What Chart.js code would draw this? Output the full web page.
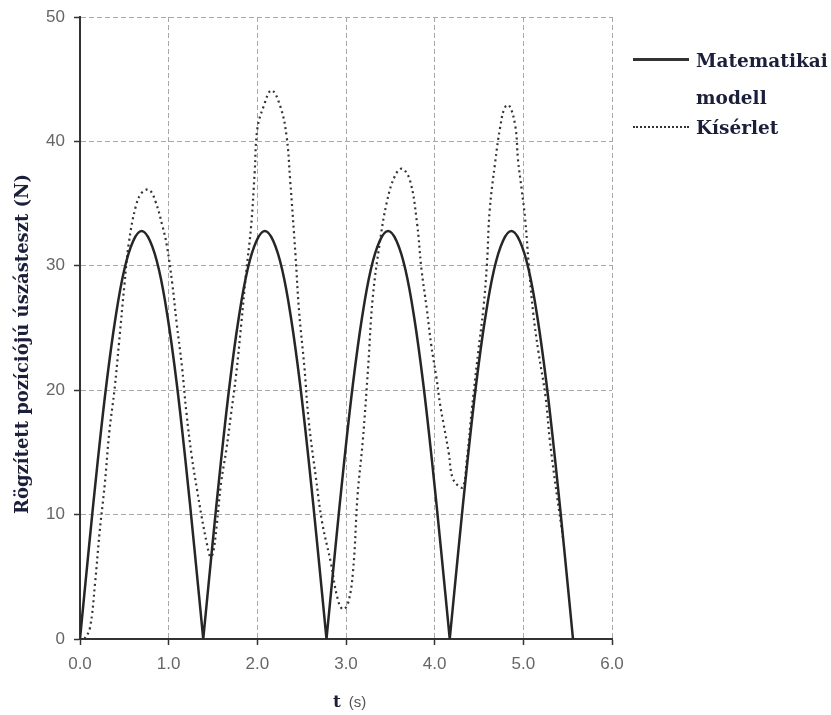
<!DOCTYPE html>
<html>
<head>
<meta charset="utf-8">
<script src="https://cdn.jsdelivr.net/npm/chart.js@4"></script>
<style>
  body { margin: 0; background: #fff; }
  #wrap { position: relative; width: 831px; height: 715px; }
  .leg { position: absolute; font-family: "DejaVu Serif", serif; font-weight: bold; font-size: 18.5px; color: #1c1f3a; line-height: 22px; white-space: nowrap; }
  .legLine { position: absolute; width: 56px; }
  #yTitle { position: absolute; left: -178px; top: 333px; width: 400px; height: 22px; line-height: 22px; text-align: center;
    transform: rotate(-90deg); font-family: "DejaVu Serif", serif; font-weight: bold; font-size: 18px; color: #1c1f3a; white-space: nowrap; }
  #xTitle { position: absolute; top: 691px; left: 333px; white-space: nowrap; }
  #xTitle b { font-family: "DejaVu Serif", serif; color: #1c1f3a; font-size: 17px; }
  #xTitle span { font-family: "Liberation Sans", sans-serif; color: #555; font-size: 15px; }
</style>
</head>
<body>
<div id="wrap">
  <canvas id="myChart" width="831" height="715"></canvas>
  <div id="yTitle">Rögzített pozíciójú úszásteszt (N)</div>
  <div class="legLine" style="left:633px; top:58px; border-top:3px solid #333;"></div>
  <div class="leg" style="left:696px; top:50px;">Matematikai</div>
  <div class="leg" style="left:696px; top:87px;">modell</div>
  <div class="legLine" style="left:633px; top:126px; border-top:2px dotted #333;"></div>
  <div class="leg" style="left:696px; top:117px;">Kísérlet</div>
  <div id="xTitle"><b>t</b>&nbsp; <span>(s)</span></div>
</div>
<script>
// Matematikai modell: time (s) and force (N); null splits the arches so the zeros stay sharp
const modelT = [0, 0.1, 0.2, 0.3, 0.4, 0.5, 0.6, 0.695, 0.79, 0.89, 0.99, 1.09, 1.19, 1.29, 1.39, 1.39,
  1.39, 1.49, 1.59, 1.69, 1.79, 1.89, 1.99, 2.085, 2.18, 2.28, 2.38, 2.48, 2.58, 2.68, 2.78, 2.78,
  2.78, 2.88, 2.98, 3.08, 3.18, 3.28, 3.38, 3.475, 3.57, 3.67, 3.77, 3.87, 3.97, 4.07, 4.17, 4.17,
  4.17, 4.27, 4.37, 4.47, 4.57, 4.67, 4.77, 4.865, 4.96, 5.06, 5.16, 5.26, 5.36, 5.46, 5.56];
const modelN = [0, 7.3, 14.3, 20.6, 25.8, 29.7, 32.0, 32.8, 32.0, 29.7, 25.8, 20.6, 14.3, 7.3, 0, null,
  0, 7.3, 14.3, 20.6, 25.8, 29.7, 32.0, 32.8, 32.0, 29.7, 25.8, 20.6, 14.3, 7.3, 0, null,
  0, 7.3, 14.3, 20.6, 25.8, 29.7, 32.0, 32.8, 32.0, 29.7, 25.8, 20.6, 14.3, 7.3, 0, null,
  0, 7.3, 14.3, 20.6, 25.8, 29.7, 32.0, 32.8, 32.0, 29.7, 25.8, 20.6, 14.3, 7.3, 0];

// Kísérlet: measured values
const expT = [0.05, 0.11, 0.17, 0.22, 0.28, 0.33, 0.39, 0.44, 0.50, 0.55, 0.63, 0.70, 0.78, 0.85, 0.93, 0.98,
  1.04, 1.09, 1.15, 1.20, 1.26, 1.32, 1.37, 1.43, 1.47, 1.50, 1.54, 1.59, 1.65, 1.70, 1.76, 1.82, 1.87, 1.93, 1.97,
  2.00, 2.07, 2.16, 2.26, 2.33, 2.37, 2.43, 2.47, 2.53, 2.58, 2.66, 2.73, 2.83, 2.90, 2.96,
  3.02, 3.08, 3.13, 3.19, 3.25, 3.30, 3.38, 3.46, 3.55, 3.63, 3.72, 3.80, 3.85, 3.91, 3.96,
  4.02, 4.06, 4.10, 4.16, 4.20, 4.27, 4.32, 4.36, 4.42, 4.49, 4.55, 4.59, 4.62, 4.68, 4.74, 4.79, 4.84, 4.91, 4.94, 4.98,
  5.02, 5.06, 5.11, 5.17, 5.25, 5.30, 5.38, 5.45];
const expN = [0, 0.8, 4.5, 8.5, 12.5, 16.6, 20.1, 23.8, 28.4, 31.8, 34.8, 35.9, 36.1, 35.2, 33.2, 31.6,
  28.6, 25.4, 21.9, 18.2, 14.7, 12.0, 9.9, 7.7, 6.6, 6.9, 9.0, 12.5, 15.2, 17.9, 21.2, 25.4, 29.2, 33.2, 37.5,
  41.0, 42.8, 44.1, 42.8, 40.4, 36.9, 30.9, 26.4, 21.9, 17.5, 13.0, 9.4, 6.1, 3.4, 2.4,
  2.8, 5.5, 11.5, 16.0, 21.9, 27.3, 31.8, 35.1, 37.2, 37.8, 36.9, 33.5, 29.8, 26.6, 23.7,
  21.0, 18.9, 17.3, 14.9, 13.0, 12.3, 12.2, 14.2, 18.5, 23.0, 26.6, 30.2, 34.4, 38.2, 41.2, 42.7, 42.9, 41.2, 38.5, 36.2,
  33.8, 30.2, 26.3, 23.1, 19.5, 15.9, 11.5, 8.0];

const xTicks = [0, 1, 2, 3, 4, 5, 6];
const yTicks = [0, 10, 20, 30, 40, 50];

const toPoints = (ts, vs) => ts.map((t, i) => ({ x: t, y: vs[i] }));

const tickFont = { family: 'Liberation Sans', size: 17 };

const ctx = document.getElementById('myChart').getContext('2d');
const myChart = new Chart(ctx, {
  type: 'line',
  data: {
    datasets: [{
      label: 'Matematikai modell',
      data: toPoints(modelT, modelN),
      borderColor: '#262626',
      borderWidth: 2.5,
      pointRadius: 0,
      spanGaps: false,
      tension: 0.4
    },
    {
      label: 'Kísérlet',
      data: toPoints(expT, expN),
      borderColor: '#333',
      borderWidth: 2.2,
      borderDash: [2, 3.5],
      pointRadius: 0,
      tension: 0.4
    }]
  },
  options: {
    responsive: false,
    animation: false,
    layout: { padding: { left: 0, right: 219, top: 17, bottom: 0 } },
    plugins: { legend: { display: false }, tooltip: { enabled: false } },
    scales: {
      x: {
        type: 'linear',
        min: 0,
        max: 6,
        afterFit: (scale) => { scale.height = 76; },
        afterBuildTicks: (scale) => { scale.ticks = xTicks.map(v => ({ value: v })); },
        ticks: { font: tickFont, color: '#666', padding: 9, callback: (v) => v.toFixed(1) },
        grid: { color: '#a8a8a8', lineWidth: 1, tickLength: 6, tickColor: '#333', tickWidth: 1.5 },
        border: { color: '#333', width: 2, dash: [5, 3] }
      },
      y: {
        min: 0,
        max: 50,
        afterFit: (scale) => { scale.width = 80; scale.paddingTop = 0; },
        afterBuildTicks: (scale) => { scale.ticks = yTicks.map(v => ({ value: v })); },
        ticks: { font: tickFont, color: '#666', padding: 9 },
        grid: { color: '#a8a8a8', lineWidth: 1, tickLength: 6, tickColor: '#333', tickWidth: 1.5 },
        border: { color: '#333', width: 2, dash: [5, 3] }
      }
    }
  }
});
</script>
</body>
</html>
